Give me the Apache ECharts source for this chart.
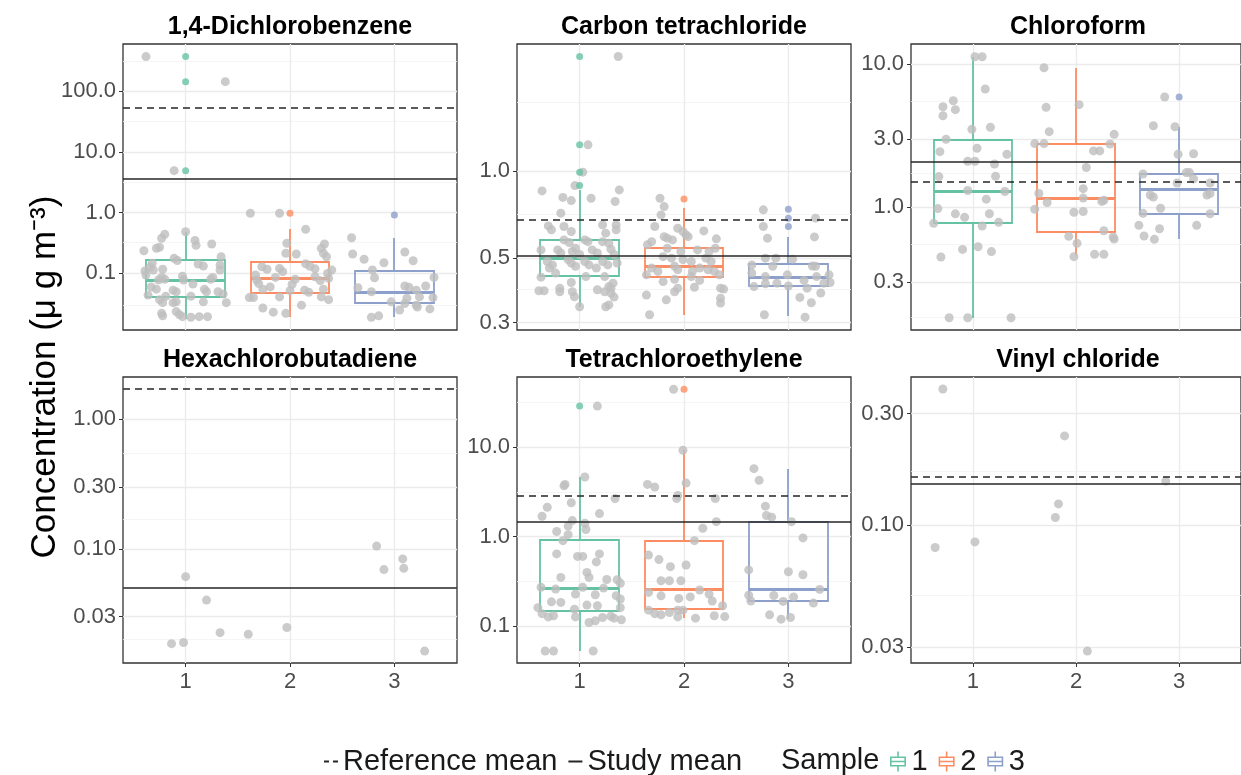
<!DOCTYPE html>
<html><head><meta charset="utf-8"><title>VOC concentrations by sample</title>
<script src="https://cdn.jsdelivr.net/npm/echarts@6.0.0/dist/echarts.min.js"></script>
<style>html,body{margin:0;padding:0;background:#fff}#chart{width:1241px;height:775px}</style>
</head><body><div id="chart"></div>
<script>
const FONT = "'Liberation Sans', Arial, Helvetica, sans-serif";

// ---------- data ----------
const panelTitles = ['1,4-Dichlorobenzene', 'Carbon tetrachloride', 'Chloroform',
                     'Hexachlorobutadiene', 'Tetrachloroethylene', 'Vinyl chloride'];
const sampleGroups = ['1', '2', '3'];
const sampleColors = ['#66C2A5', '#FC8D62', '#8DA0CB'];
const xTicks = [1, 2, 3];
const yMin = [0.0117, 0.2826, 0.1387, 0.0132, 0.0384, 0.0256];
const yMax = [600, 2.74, 13.87, 2.11, 61.2, 0.430];
const yTicks = [[0.1, 1, 10, 100], [0.3, 0.5, 1], [0.3, 1, 3, 10], [0.03, 0.1, 0.3, 1], [0.1, 1, 10], [0.03, 0.1, 0.3]];
const yTickDecimals = [1, 1, 1, 2, 1, 2];
const yMinorGrid = [[0.0316, 0.316, 3.16, 31.6, 316], [0.387, 0.707, 1.732], [0.173, 0.548, 1.732, 5.477],
                    [0.01732, 0.0548, 0.1732, 0.548, 1.732], [0.316, 3.16, 31.6], [0.0548, 0.1732]];
const referenceMean = [52.5, 0.678, 1.50, 1.71, 2.87, 0.160];
const studyMean = [3.59, 0.512, 2.08, 0.0462, 1.45, 0.150];

// jittered observations: [sample position incl. jitter, concentration]
const dcbPoints = [[0.62,372],[1.38,144],[0.89,4.92],
 [1.00,0.486],[0.80,0.44],[0.77,0.38],[0.75,0.27],[0.72,0.26],[1.09,0.35],[1.10,0.29],[1.25,0.305],[0.60,0.236],[0.89,0.177],[0.92,0.163],[1.34,0.188],[0.68,0.147],[0.66,0.126],[0.69,0.114],[1.12,0.143],[1.17,0.132],[1.33,0.114],[1.33,0.138],[0.78,0.117],[0.62,0.094],[0.77,0.086],[0.80,0.080],[0.74,0.078],[0.97,0.090],[0.98,0.078],[1.24,0.080],[1.26,0.086],[1.07,0.067],[0.67,0.060],[0.72,0.055],[0.88,0.053],[0.91,0.050],[1.18,0.055],[1.20,0.050],[1.31,0.050],[1.36,0.046],[0.64,0.044],[0.81,0.042],[1.05,0.042],[1.39,0.033],[0.75,0.037],[0.78,0.033],[0.88,0.033],[0.91,0.034],[1.17,0.034],[0.77,0.022],[0.78,0.020],[0.91,0.0235],[0.94,0.021],[1.05,0.019],[1.13,0.0194],[1.21,0.0194],[0.97,0.0194],[0.61,0.11],
 [1.62,0.98],[1.90,0.98],[2.15,0.532],[1.97,0.314],[1.96,0.215],[2.33,0.305],[2.30,0.259],[2.32,0.215],[2.35,0.188],[2.06,0.209],[1.73,0.129],[1.78,0.117],[1.90,0.121],[1.93,0.107],[2.15,0.144],[2.19,0.131],[2.24,0.119],[2.40,0.114],[1.67,0.094],[1.68,0.078],[1.86,0.086],[2.05,0.080],[2.24,0.088],[2.29,0.076],[1.74,0.055],[1.81,0.060],[2.00,0.052],[2.14,0.053],[2.18,0.049],[2.32,0.055],[1.61,0.040],[1.65,0.040],[1.90,0.041],[2.11,0.030],[1.74,0.027],[1.84,0.023],[1.96,0.022],[2.37,0.037],[2.30,0.041],[2.37,0.083],[2.36,0.10],[1.70,0.068],[2.02,0.066],
 [2.59,0.387],[2.60,0.209],[2.71,0.171],[2.90,0.150],[3.10,0.225],[3.18,0.162],[2.79,0.114],[2.81,0.085],[2.65,0.058],[2.78,0.050],[2.97,0.034],[3.05,0.025],[3.10,0.062],[3.14,0.059],[3.12,0.039],[3.10,0.032],[3.21,0.053],[3.24,0.041],[3.30,0.062],[3.38,0.086],[3.37,0.040],[3.21,0.030],[3.22,0.028],[3.34,0.026],[2.78,0.019],[2.85,0.020]];
const ctPoints = [[1.37,2.48],[1.08,1.23],[1.03,0.99],[0.955,0.89],
 [0.64,0.853],[0.84,0.81],[0.92,0.79],[1.11,0.805],[1.38,0.86],[1.34,0.784],[0.82,0.715],[0.70,0.646],[0.73,0.626],[0.85,0.643],[0.92,0.618],[1.22,0.651],[1.25,0.610],[1.35,0.651],[1.35,0.626],[0.85,0.578],[0.90,0.566],[1.05,0.578],[1.08,0.57],[1.22,0.57],[1.28,0.563],[0.63,0.534],[0.79,0.534],[0.82,0.521],[0.93,0.527],[0.96,0.541],[1.00,0.515],[1.12,0.534],[1.17,0.521],[1.30,0.537],[1.33,0.515],[0.69,0.487],[0.74,0.474],[0.71,0.462],[0.89,0.494],[0.92,0.481],[0.96,0.469],[1.05,0.487],[1.09,0.474],[1.16,0.462],[1.22,0.487],[1.27,0.474],[1.36,0.481],[0.63,0.43],[0.77,0.444],[1.06,0.432],[1.24,0.432],[1.32,0.41],[1.30,0.394],[0.92,0.412],[0.61,0.386],[0.66,0.386],[0.81,0.394],[0.81,0.383],[0.93,0.383],[0.95,0.368],[1.17,0.389],[1.24,0.383],[1.28,0.399],[1.33,0.367],[1.30,0.379],[1.25,0.34],[1.28,0.345],[1.00,0.34],
 [1.77,0.805],[1.81,0.753],[1.78,0.705],[1.72,0.643],[1.94,0.634],[1.99,0.618],[2.02,0.601],[1.81,0.593],[1.84,0.586],[1.89,0.578],[2.04,0.593],[2.19,0.621],[2.31,0.583],[1.69,0.57],[1.65,0.556],[1.84,0.541],[1.97,0.527],[2.13,0.534],[2.24,0.527],[2.30,0.541],[1.80,0.506],[1.88,0.50],[1.99,0.494],[2.07,0.487],[2.21,0.50],[2.26,0.487],[1.69,0.462],[1.75,0.45],[1.91,0.469],[1.94,0.456],[2.08,0.45],[2.15,0.462],[2.23,0.456],[2.29,0.45],[1.64,0.438],[1.80,0.415],[1.91,0.423],[2.07,0.432],[2.15,0.419],[2.34,0.438],[1.64,0.373],[1.83,0.359],[1.91,0.383],[1.94,0.394],[2.10,0.397],[2.35,0.394],[2.38,0.391],[2.35,0.364],[2.35,0.35],[1.67,0.319],
 [2.76,0.734],[3.26,0.687],[2.76,0.643],[2.80,0.586],[3.25,0.592],[2.78,0.50],[2.88,0.50],[3.04,0.496],[2.65,0.474],[2.85,0.469],[3.23,0.47],[3.26,0.469],[2.65,0.444],[2.78,0.432],[2.99,0.438],[3.27,0.432],[3.39,0.438],[2.67,0.399],[2.78,0.408],[2.89,0.41],[3.00,0.401],[3.15,0.419],[3.18,0.394],[3.34,0.41],[3.40,0.412],[3.31,0.379],[3.11,0.366],[3.22,0.351],[2.77,0.319],[3.16,0.313]];
const cfPoints = [[1.02,11.3],[1.09,11.3],[1.12,6.72],[0.81,5.56],[0.71,5.05],[0.83,4.82],[0.71,4.37],[0.99,3.51],[1.17,3.63],[0.74,2.99],[1.04,2.59],[0.68,2.45],[1.33,2.35],[0.95,2.10],[1.02,2.10],[1.21,2.01],[1.22,1.65],[0.67,1.64],[0.95,1.31],[1.31,1.29],[1.13,1.14],[0.66,0.98],[0.83,0.90],[0.92,0.851],[1.16,0.902],[0.62,0.773],[1.25,0.785],[1.09,0.74],[0.90,0.508],[1.05,0.53],[1.18,0.49],[0.69,0.449],[0.77,0.169],[0.95,0.169],[1.37,0.169],
 [1.69,9.47],[1.71,5.0],[2.03,5.22],[1.74,3.38],[2.37,3.24],[1.60,2.79],[1.69,2.79],[2.33,2.77],[2.17,2.48],[2.23,2.48],[2.10,1.90],[2.07,1.35],[1.64,1.25],[2.07,1.16],[1.72,1.08],[2.27,1.12],[2.25,1.10],[1.60,0.97],[1.98,0.923],[2.07,0.935],[2.27,0.686],[1.93,0.627],[2.37,0.60],[2.36,0.62],[2.01,0.56],[1.98,0.452],[2.18,0.469],[2.27,0.469],
 [2.86,5.91],[2.75,3.72],[2.96,3.66],[2.99,2.35],[3.14,2.37],[3.07,1.75],[3.10,1.75],[3.14,1.58],[2.65,1.71],[2.98,1.48],[3.30,1.48],[2.72,1.22],[2.75,1.18],[3.27,1.22],[3.30,1.25],[2.82,0.985],[2.65,0.908],[3.30,0.902],[2.61,0.748],[2.81,0.708],[3.17,0.748],[2.66,0.63],[2.76,0.597]];
const hcbdPoints = [[2.83,0.105],[2.90,0.0692],[3.08,0.0837],[3.09,0.0708],[1.00,0.0611],[1.20,0.0403],[1.33,0.0226],[1.60,0.0220],[1.97,0.0248],[0.865,0.0186],[0.98,0.0190],[3.29,0.0163]];
const tcePoints = [[1.17,28.9],[1.05,4.64],[0.86,3.84],[0.85,3.7],[0.92,2.39],[1.34,2.67],[0.69,2.13],[0.64,1.69],[1.19,1.81],[0.93,1.51],[1.05,1.41],[1.06,1.20],[0.89,1.31],[0.78,1.14],[0.89,1.05],[0.84,0.90],[0.78,0.64],[0.98,0.60],[1.03,0.60],[1.19,0.64],[1.16,0.52],[1.07,0.397],[1.09,0.349],[0.82,0.349],[1.26,0.331],[1.36,0.328],[1.39,0.30],[0.63,0.27],[0.77,0.258],[0.96,0.227],[1.03,0.27],[1.15,0.223],[1.23,0.265],[1.35,0.218],[1.39,0.20],[0.73,0.186],[0.82,0.183],[1.07,0.171],[1.17,0.168],[0.60,0.16],[0.64,0.137],[0.95,0.154],[1.39,0.16],[0.70,0.126],[0.75,0.13],[0.96,0.126],[1.09,0.109],[1.15,0.114],[1.22,0.124],[1.30,0.128],[1.33,0.122],[1.40,0.117],[0.67,0.0524],[0.75,0.0524],[1.13,0.0524],
 [1.90,44.5],[1.99,9.25],[1.65,3.84],[1.72,3.58],[2.02,3.97],[1.93,2.67],[1.94,2.89],[2.30,2.67],[2.31,1.47],[2.18,1.24],[2.10,0.90],[1.66,0.62],[1.76,0.552],[2.02,0.481],[1.87,0.46],[1.78,0.32],[1.86,0.32],[1.97,0.32],[1.66,0.237],[1.78,0.217],[1.95,0.203],[2.06,0.211],[2.15,0.252],[2.24,0.227],[2.27,0.19],[2.37,0.168],[1.66,0.15],[1.72,0.137],[1.78,0.133],[1.86,0.141],[1.94,0.15],[1.99,0.15],[1.94,0.126],[2.11,0.122],[2.29,0.13],[2.39,0.127],
 [2.67,5.76],[2.72,4.26],[2.78,2.19],[2.79,1.72],[2.84,1.65],[3.03,1.47],[3.14,0.966],[2.62,0.423],[3.00,0.404],[3.14,0.374],[3.30,0.256],[2.62,0.22],[2.64,0.19],[2.86,0.219],[2.95,0.188],[3.05,0.211],[3.24,0.18],[2.82,0.133],[2.93,0.119],[3.02,0.124]];
const vcPoints = [[0.709,0.382],[1.889,0.2405],[2.87,0.154],[1.83,0.123],[1.80,0.1075],[0.634,0.080],[1.02,0.0845],[2.11,0.0288]];

// box statistics: [sample, lower whisker, Q1, median, Q3, upper whisker]
const dcbBoxes = [[1,0.0178,0.0404,0.0779,0.166,0.486],[2,0.0194,0.047,0.083,0.152,0.532],[3,0.0194,0.0322,0.0489,0.1096,0.379]];
const ctBoxes = [[1,0.34,0.435,0.50,0.578,0.86],[2,0.319,0.432,0.468,0.541,0.743],[3,0.315,0.401,0.43,0.477,0.591]];
const cfBoxes = [[1,0.169,0.773,1.31,2.96,11.3],[2,0.464,0.669,1.156,2.76,9.4],[3,0.597,0.898,1.35,1.72,3.66]];
const tceBoxes = [[1,0.0524,0.1475,0.265,0.925,4.64],[2,0.122,0.153,0.256,0.894,9.25],[3,0.119,0.189,0.258,1.47,5.76]];
// outliers: [sample, concentration]
const dcbOutliers = [[1,372],[1,144],[1,4.92],[2,0.98],[3,0.916]];
const ctOutliers = [[1,0.89],[1,0.99],[1,1.23],[1,2.48],[2,0.80],[3,0.738],[3,0.687],[3,0.643]];
const cfOutliers = [[3,5.91]];
const tceOutliers = [[1,28.9],[2,44.5]];

const panelPoints = [dcbPoints, ctPoints, cfPoints, hcbdPoints, tcePoints, vcPoints];
const panelBoxes = [dcbBoxes, ctBoxes, cfBoxes, [], tceBoxes, []];
const panelOutliers = [dcbOutliers, ctOutliers, cfOutliers, [], tceOutliers, []];

// ---------- layout / style ----------
const COL_LEFT = [123, 517, 911];
const ROW_TOP = [44, 377];
const PANEL_W = 334, PANEL_H = 286;
const BOX_HALF = 0.375;
const BOX_ICON = 'path://M7.2,0H8.8V5H7.2Z M0,5H16V6.6H0Z M0,13.4H16V15H0Z M0,5H1.6V15H0Z M14.4,5H16V15H14.4Z M0,9.2H16V10.8H0Z M7.2,15H8.8V20H7.2Z';

const snap = v => Math.round(v);
function renderBox(params, api) {
  const g = api.value(0);
  const color = api.visual('color');
  const cx = snap(api.coord([g, api.value(1)])[0]);
  const xL = snap(api.coord([g - BOX_HALF, api.value(3)])[0]);
  const xR = snap(api.coord([g + BOX_HALF, api.value(3)])[0]);
  const yLo = snap(api.coord([g, api.value(1)])[1]);
  const yQ1 = snap(api.coord([g, api.value(2)])[1]);
  const yMed = snap(api.coord([g, api.value(3)])[1]) + 0.5;
  const yQ3 = snap(api.coord([g, api.value(4)])[1]);
  const yHi = snap(api.coord([g, api.value(5)])[1]);
  const ls = {stroke: color, lineWidth: 1.8, fill: null};
  return {type: 'group', children: [
    {type: 'line', shape: {x1: cx, y1: yHi, x2: cx, y2: yQ3}, style: ls},
    {type: 'line', shape: {x1: cx, y1: yQ1, x2: cx, y2: yLo}, style: ls},
    {type: 'rect', shape: {x: xL, y: yQ3, width: xR - xL, height: yQ1 - yQ3}, style: {stroke: color, lineWidth: 1.8, fill: 'rgba(0,0,0,0)'}},
    {type: 'line', shape: {x1: xL, y1: yMed, x2: xR, y2: yMed}, style: {stroke: color, lineWidth: 3}}
  ]};
}

const grids = [], xAxes = [], yAxes = [], titles = [], series = [];
panelTitles.forEach((t, i) => {
  const row = Math.floor(i / 3), col = i % 3;
  grids.push({left: COL_LEFT[col], top: ROW_TOP[row], width: PANEL_W, height: PANEL_H,
    show: true, backgroundColor: '#ffffff', borderColor: '#333333', borderWidth: 1.3});
  titles.push({text: t, left: COL_LEFT[col] + PANEL_W / 2, top: ROW_TOP[row] - 29, textAlign: 'center', padding: 0,
    textStyle: {fontSize: 25, fontWeight: 'bold', color: '#000000', fontFamily: FONT}});
  xAxes.push({gridIndex: i, type: 'value', min: 0.4, max: 3.6,
    axisLine: {show: false}, splitLine: {show: false},
    axisTick: {show: row === 1, customValues: xTicks, length: 4, lineStyle: {color: '#333333'}},
    axisLabel: {show: row === 1, customValues: xTicks, fontSize: 22, color: '#4D4D4D', fontFamily: FONT, margin: 8}});
  const dec = yTickDecimals[i];
  yAxes.push({gridIndex: i, type: 'log', logBase: 10, min: yMin[i], max: yMax[i],
    axisLine: {show: false}, splitLine: {show: false}, minorSplitLine: {show: false},
    axisTick: {show: true, customValues: yTicks[i], length: 4, lineStyle: {color: '#333333'}},
    axisLabel: {show: true, customValues: yTicks[i], fontSize: 22, color: '#4D4D4D', fontFamily: FONT, margin: 7,
      formatter: v => Number(v).toFixed(dec)}});
  const ax = {xAxisIndex: i, yAxisIndex: i};
  series.push({type: 'line', ...ax, data: [], silent: true, z: 1,
    markLine: {z: 1, silent: true, symbol: ['none', 'none'], animation: false, label: {show: false}, emphasis: {disabled: true},
      data: [
        ...yMinorGrid[i].map(v => ({yAxis: v, lineStyle: {color: '#F2F2F2', width: 0.8, type: 'solid'}})),
        ...yTicks[i].map(v => ({yAxis: v, lineStyle: {color: '#EBEBEB', width: 1.3, type: 'solid'}})),
        ...xTicks.map(v => ({xAxis: v, lineStyle: {color: '#EBEBEB', width: 1.3, type: 'solid'}}))
      ]}});
  panelBoxes[i].forEach(b => {
    series.push({type: 'custom', name: sampleGroups[b[0] - 1], ...ax, data: [b], silent: true, z: 2, clip: true,
      itemStyle: {color: sampleColors[b[0] - 1]}, encode: {x: 0, y: [1, 2, 3, 4, 5]}, renderItem: renderBox});
  });
  series.push({type: 'scatter', name: 'Observations', ...ax, data: panelPoints[i], symbolSize: 9, silent: true, z: 3,
    itemStyle: {color: '#BEBEBE'}});
  series.push({type: 'scatter', name: 'Outliers', ...ax, silent: true, z: 4, symbolSize: 7,
    data: panelOutliers[i].map(o => ({value: o, itemStyle: {color: sampleColors[o[0] - 1]}}))});
  series.push({type: 'line', name: 'Reference mean', ...ax, data: [], symbol: 'none', silent: true, z: 6,
    itemStyle: {color: '#262626', opacity: 0}, lineStyle: {color: '#262626', width: 1.6, type: [5, 4]},
    markLine: {z: 6, silent: true, symbol: ['none', 'none'], animation: false, label: {show: false}, emphasis: {disabled: true},
      lineStyle: {color: '#262626', width: 1.6, type: [7, 5]}, data: [{yAxis: referenceMean[i]}]}});
  series.push({type: 'line', name: 'Study mean', ...ax, data: [], symbol: 'none', silent: true, z: 6,
    itemStyle: {color: '#262626', opacity: 0}, lineStyle: {color: '#262626', width: 1.6, type: 'solid'},
    markLine: {z: 6, silent: true, symbol: ['none', 'none'], animation: false, label: {show: false}, emphasis: {disabled: true},
      lineStyle: {color: '#262626', width: 1.6, type: 'solid'}, data: [{yAxis: studyMean[i]}]}});
});

const chart = echarts.init(document.getElementById('chart'), null, {renderer: 'canvas'});
chart.setOption({
  animation: false,
  backgroundColor: '#ffffff',
  textStyle: {fontFamily: FONT},
  title: titles,
  grid: grids,
  xAxis: xAxes,
  yAxis: yAxes,
  legend: [
    {data: ['Reference mean', 'Study mean'], left: 318, top: 742, itemWidth: 14, itemHeight: 14, itemGap: 10,
      selectedMode: false, textStyle: {fontSize: 29, color: '#1A1A1A', fontFamily: FONT}},
    {data: sampleGroups.map(g => ({name: g, icon: BOX_ICON})), left: 885, top: 742, itemWidth: 17, itemHeight: 20, itemGap: 11,
      selectedMode: false, textStyle: {fontSize: 29, color: '#1A1A1A', fontFamily: FONT}}
  ],
  graphic: [
    {type: 'text', x: 45, y: 377, rotation: Math.PI / 2, silent: true,
      style: {text: 'Concentration (\u03bc g m\u207b\u00b3)', fontSize: 35, fontFamily: FONT, fill: '#000000', align: 'center', verticalAlign: 'middle'}},
    {type: 'text', x: 781, y: 761, silent: true,
      style: {text: 'Sample', fontSize: 29, fontFamily: FONT, fill: '#1A1A1A', align: 'left', verticalAlign: 'middle'}}
  ],
  series: series
});
</script></body></html>
